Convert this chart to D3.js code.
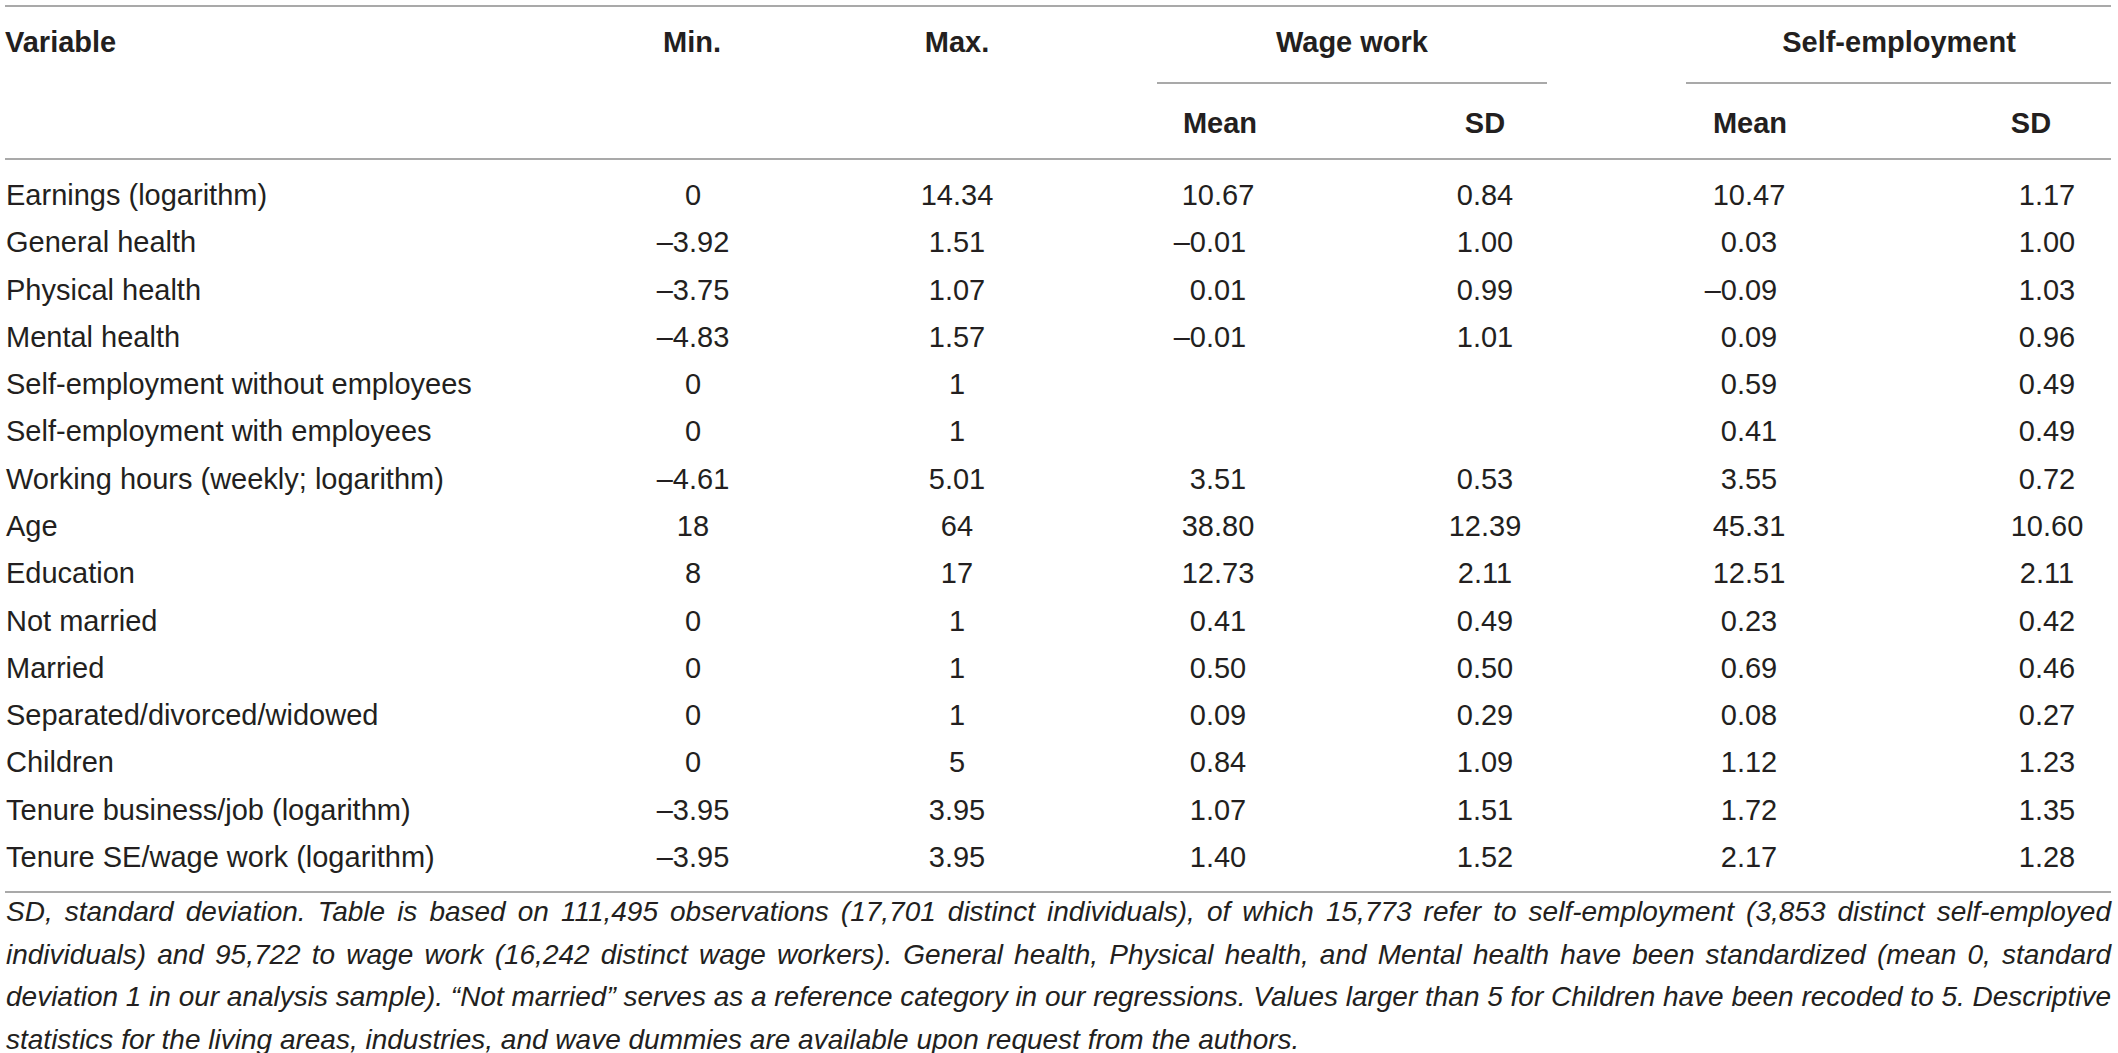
<!DOCTYPE html>
<html>
<head>
<meta charset="utf-8">
<script src="https://cdn.jsdelivr.net/npm/d3@7"></script>
<style>
  html, body { margin: 0; padding: 0; background: #ffffff; }
  svg { display: block; }
</style>
</head>
<body>
<svg id="chart" width="2118" height="1053"></svg>
<script>
// ---------- data ----------
const variables = [
  "Earnings (logarithm)",
  "General health",
  "Physical health",
  "Mental health",
  "Self-employment without employees",
  "Self-employment with employees",
  "Working hours (weekly; logarithm)",
  "Age",
  "Education",
  "Not married",
  "Married",
  "Separated/divorced/widowed",
  "Children",
  "Tenure business/job (logarithm)",
  "Tenure SE/wage work (logarithm)"
];
const minValues  = [0, -3.92, -3.75, -4.83, 0, 0, -4.61, 18, 8, 0, 0, 0, 0, -3.95, -3.95];
const maxValues  = [14.34, 1.51, 1.07, 1.57, 1, 1, 5.01, 64, 17, 1, 1, 1, 5, 3.95, 3.95];
const wageMean   = [10.67, -0.01, 0.01, -0.01, null, null, 3.51, 38.80, 12.73, 0.41, 0.50, 0.09, 0.84, 1.07, 1.40];
const wageSD     = [0.84, 1.00, 0.99, 1.01, null, null, 0.53, 12.39, 2.11, 0.49, 0.50, 0.29, 1.09, 1.51, 1.52];
const selfMean   = [10.47, 0.03, -0.09, 0.09, 0.59, 0.41, 3.55, 45.31, 12.51, 0.23, 0.69, 0.08, 1.12, 1.72, 2.17];
const selfSD     = [1.17, 1.00, 1.03, 0.96, 0.49, 0.49, 0.72, 10.60, 2.11, 0.42, 0.46, 0.27, 1.23, 1.35, 1.28];

const headerTop = ["Variable", "Min.", "Max.", "Wage work", "Self-employment"];
const headerSub = ["Mean", "SD", "Mean", "SD"];
const footnoteLines = [
  "SD, standard deviation. Table is based on 111,495 observations (17,701 distinct individuals), of which 15,773 refer to self-employment (3,853 distinct self-employed",
  "individuals) and 95,722 to wage work (16,242 distinct wage workers). General health, Physical health, and Mental health have been standardized (mean 0, standard",
  "deviation 1 in our analysis sample). \u201CNot married\u201D serves as a reference category in our regressions. Values larger than 5 for Children have been recoded to 5. Descriptive",
  "statistics for the living areas, industries, and wave dummies are available upon request from the authors."
];

// ---------- layout ----------
const svg = d3.select("#chart");
const W = 2118;
const textColor = "#231f20";
const ruleColor = "#a9a9a9";
const bodyFont = "'Liberation Sans', Arial, Helvetica, sans-serif";

const left = 6, right = 2111;

// row positions via a linear scale over row index
const y = d3.scaleLinear().domain([0, variables.length - 1]).range([205, 867]);

// column centers
const colX = d3.scaleOrdinal()
  .domain(["min", "max", "wMean", "wSD", "sMean", "sSD"])
  .range([693, 957, 1218, 1485, 1749, 2047]);
const headX = d3.scaleOrdinal()
  .domain(["Min.", "Max.", "Wage work", "Self-employment", "wMean", "wSD", "sMean", "sSD"])
  .range([692, 957, 1352, 1899, 1220, 1485, 1750, 2031]);

const dash = "\u2013";
const fmtRange = v => (Number.isInteger(v) ? String(Math.abs(v)) : d3.format(".2f")(Math.abs(v)));
const fmt2 = v => d3.format(".2f")(Math.abs(v));

// ---------- rules ----------
const rules = [
  {x1: left - 1, x2: right, y: 6},
  {x1: 1157, x2: 1547, y: 83},
  {x1: 1686, x2: right, y: 83},
  {x1: left - 1, x2: right, y: 159},
  {x1: left - 1, x2: right, y: 892}
];
svg.append("g").selectAll("line").data(rules).join("line")
  .attr("x1", d => d.x1).attr("x2", d => d.x2)
  .attr("y1", d => d.y).attr("y2", d => d.y)
  .attr("stroke", ruleColor).attr("stroke-width", 2);

// ---------- headers ----------
const hg = svg.append("g")
  .attr("font-family", bodyFont).attr("font-weight", "bold")
  .attr("font-size", 29).attr("fill", textColor);

hg.append("text").attr("x", left - 1).attr("y", 52).text(headerTop[0]);
hg.selectAll("text.top").data(headerTop.slice(1)).join("text")
  .attr("class", "top")
  .attr("x", d => headX(d)).attr("y", 52)
  .attr("text-anchor", "middle").text(d => d);
const subKeys = ["wMean", "wSD", "sMean", "sSD"];
hg.selectAll("text.sub").data(headerSub).join("text")
  .attr("class", "sub")
  .attr("x", (d, i) => headX(subKeys[i])).attr("y", 133)
  .attr("text-anchor", "middle").text(d => d);

// ---------- body ----------
const bg = svg.append("g")
  .attr("font-family", bodyFont).attr("font-size", 29).attr("fill", textColor);

bg.selectAll("text.var").data(variables).join("text")
  .attr("class", "var")
  .attr("x", left).attr("y", (d, i) => y(i)).text(d => d);

// Min / Max: whole string centered
[["min", minValues], ["max", maxValues]].forEach(([key, arr]) => {
  bg.selectAll("text." + key).data(arr).join("text")
    .attr("class", key)
    .attr("x", colX(key)).attr("y", (d, i) => y(i))
    .attr("text-anchor", "middle")
    .text(d => (d < 0 ? dash : "") + fmtRange(d));
});

// Mean / SD columns: unsigned part centered, dash hanging left
[["wMean", wageMean], ["wSD", wageSD], ["sMean", selfMean], ["sSD", selfSD]].forEach(([key, arr]) => {
  const cells = arr.map((v, i) => ({v, i})).filter(d => d.v !== null);
  const t = bg.selectAll("text." + key).data(cells).join("text")
    .attr("class", key)
    .attr("x", colX(key)).attr("y", d => y(d.i))
    .attr("text-anchor", "middle")
    .text(d => fmt2(d.v));
  t.each(function(d) {
    if (d.v < 0) {
      const bb = this.getBBox();
      bg.append("text")
        .attr("x", bb.x).attr("y", y(d.i))
        .attr("text-anchor", "end").text(dash);
    }
  });
});

// ---------- footnote (justified except last line) ----------
const fy = d3.scaleLinear().domain([0, footnoteLines.length - 1]).range([921, 1048.5]);
const fg = svg.append("g")
  .attr("font-family", bodyFont).attr("font-style", "italic")
  .attr("font-size", 28).attr("fill", textColor);
fg.selectAll("text").data(footnoteLines).join("text")
  .attr("x", left).attr("y", (d, i) => fy(i))
  .text(d => d)
  .each(function(d, i) {
    if (i < footnoteLines.length - 1) {
      const natural = this.getComputedTextLength();
      const spaces = (d.match(/ /g) || []).length;
      const extra = (right - left - natural) / spaces;
      d3.select(this).attr("word-spacing", extra);
    }
  });
</script>
</body>
</html>
